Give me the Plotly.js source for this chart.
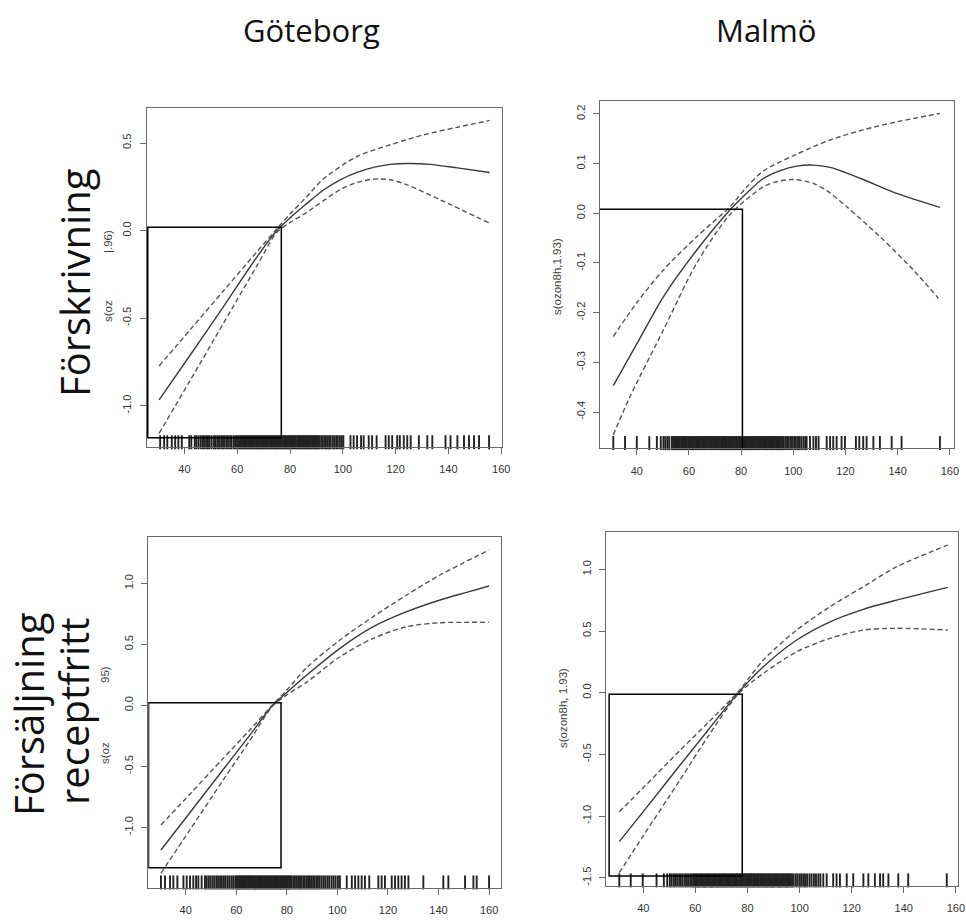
<!DOCTYPE html>
<html>
<head>
<meta charset="utf-8">
<script src="https://cdn.plot.ly/plotly-3.0.1.min.js"></script>
<style>html,body{margin:0;padding:0;background:#fff;}#chart{width:966px;height:920px;}</style>
</head>
<body>
<div id="chart"></div>
<script>
// ---------- DATA ----------
const colTitles = ["Göteborg", "Malmö"];
const rowTitle1 = "Förskrivning";
const rowTitle2 = ["Försäljning", "receptfritt"];
const yLabelsG1 = ["s(oz", "|.96)"];
const yLabelM1 = "s(ozon8h,1.93)";
const yLabelsG2 = ["s(oz", "95)"];
const yLabelM2 = "s(ozon8h, 1.93)";

const xTickVals = [40, 60, 80, 100, 120, 140, 160];
const xTickText = ["40", "60", "80", "100", "120", "140", "160"];

const yTickValsG1 = [-1.0, -0.5, 0.0, 0.5];
const yTickTextG1 = ["-1.0", "-0.5", "0.0", "0.5"];
const yTickValsM1 = [-0.4, -0.3, -0.2, -0.1, 0.0, 0.1, 0.2];
const yTickTextM1 = ["-0.4", "-0.3", "-0.2", "-0.1", "0.0", "0.1", "0.2"];
const yTickValsG2 = [-1.0, -0.5, 0.0, 0.5, 1.0];
const yTickTextG2 = ["-1.0", "-0.5", "0.0", "0.5", "1.0"];
const yTickValsM2 = [-1.5, -1.0, -0.5, 0.0, 0.5, 1.0];
const yTickTextM2 = ["-1.5", "-1.0", "-0.5", "0.0", "0.5", "1.0"];

// Göteborg – Förskrivning
const g1FitX = [30.4, 42, 54.8, 67.5, 75, 80.1, 86, 92.8, 99, 105.4, 112, 118, 124.4, 133, 143.4, 155.6];
const g1FitY = [-0.967, -0.715, -0.434, -0.15, 0.0, 0.074, 0.15, 0.233, 0.29, 0.332, 0.362, 0.378, 0.383, 0.378, 0.358, 0.332];
const g1UpX = [30.4, 42, 54.8, 67.5, 75, 80, 86, 92.8, 105.4, 118, 130.7, 143.4, 155.6];
const g1UpY = [-0.773, -0.569, -0.344, -0.12, 0.01, 0.095, 0.188, 0.297, 0.423, 0.49, 0.547, 0.59, 0.629];
const g1LoX = [30.4, 42, 54.8, 67.5, 75, 80, 86.4, 92.8, 99.1, 105.4, 111.7, 118, 124.4, 137, 155.6];
const g1LoY = [-1.158, -0.86, -0.529, -0.2, -0.01, 0.045, 0.105, 0.172, 0.235, 0.275, 0.294, 0.29, 0.261, 0.175, 0.042];

// Malmö – Förskrivning
const m1FitX = [31, 40, 50.2, 63, 75.7, 82, 88.5, 95, 101.3, 107.7, 114.1, 120, 126.8, 139.6, 156.2];
const m1FitY = [-0.347, -0.263, -0.168, -0.074, 0.0066, 0.04, 0.070, 0.086, 0.095, 0.097, 0.0925, 0.082, 0.068, 0.040, 0.012];
const m1UpX = [31, 40, 50.2, 63, 75.7, 82, 88.5, 101.3, 114.1, 126.8, 139.6, 156.2];
const m1UpY = [-0.248, -0.18, -0.114, -0.047, 0.013, 0.052, 0.085, 0.119, 0.1475, 0.168, 0.184, 0.201];
const m1LoX = [31, 37.4, 50.2, 63, 75.7, 88.5, 94, 100, 107.7, 113, 120.5, 133.2, 146, 155.6];
const m1LoY = [-0.446, -0.369, -0.235, -0.1, -0.003, 0.0535, 0.064, 0.068, 0.060, 0.045, 0.013, -0.047, -0.114, -0.171];

// Göteborg – Försäljning receptfritt
const g2FitX = [30.2, 42, 54.9, 65, 74.4, 80, 87.9, 101, 114.2, 127.4, 140.6, 150, 160];
const g2FitY = [-1.186, -0.87, -0.524, -0.255, 0.0, 0.105, 0.248, 0.467, 0.644, 0.767, 0.863, 0.92, 0.978];
const g2UpX = [30.2, 42, 54.9, 65, 74.4, 80, 87.9, 101, 114.2, 127.4, 140.6, 160];
const g2UpY = [-0.981, -0.72, -0.433, -0.21, 0.005, 0.125, 0.31, 0.535, 0.727, 0.904, 1.068, 1.273];
const g2LoX = [30.2, 42, 54.9, 65, 74.4, 80, 87.9, 101, 114.2, 127.4, 140.6, 150, 160];
const g2LoY = [-1.377, -1.01, -0.61, -0.30, -0.005, 0.085, 0.19, 0.398, 0.549, 0.644, 0.677, 0.68, 0.68];

// Malmö – Försäljning receptfritt
const m2FitX = [30.8, 40, 54, 65, 76.5, 86.1, 98.9, 111.7, 124.5, 137.3, 156.9];
const m2FitY = [-1.207, -0.964, -0.59, -0.30, 0.0, 0.211, 0.427, 0.575, 0.676, 0.751, 0.854];
const m2UpX = [30.8, 40, 54, 65, 76.5, 86.1, 98.9, 111.7, 124.5, 137.3, 156.9];
const m2UpY = [-0.964, -0.77, -0.47, -0.24, 0.01, 0.265, 0.508, 0.697, 0.859, 1.021, 1.197];
const m2LoX = [30.8, 40, 54.1, 65, 76.5, 86.1, 98.9, 111.7, 124.5, 137.3, 156.9];
const m2LoY = [-1.459, -1.16, -0.707, -0.35, -0.01, 0.157, 0.332, 0.441, 0.508, 0.522, 0.508];

// rug (observed ozon8h values)
const rugG1 = [30.8, 32.3, 33.5, 35.2, 36.5, 37.7, 39.0, 41.8, 42.6, 43.9, 44.5, 45.3, 46.1, 46.8, 47.4, 48.2, 48.9, 49.5, 50.3, 51.2, 51.8, 52.5, 53.1, 53.9, 54.6, 55.2, 55.9, 56.5, 57.3, 57.8, 58.6, 59.2, 59.9, 60.5, 61.0, 61.4, 61.9, 62.3, 62.8, 63.2, 63.6, 64.1, 64.5, 65.0, 65.4, 65.9, 66.3, 66.7, 67.2, 67.6, 68.1, 68.5, 69.0, 69.4, 69.8, 70.3, 70.7, 71.2, 71.6, 72.0, 72.5, 72.9, 73.4, 73.8, 74.3, 74.7, 75.1, 75.6, 76.0, 76.5, 76.9, 77.4, 77.8, 78.2, 78.7, 79.1, 79.6, 80.0, 80.4, 80.9, 81.3, 81.8, 82.2, 82.7, 83.1, 83.5, 84.0, 84.4, 84.9, 85.3, 85.8, 86.2, 86.6, 87.1, 87.5, 88.0, 88.4, 88.9, 89.3, 89.7, 90.2, 90.6, 91.1, 91.8, 92.4, 93.1, 93.6, 94.3, 94.9, 95.4, 96.2, 96.8, 97.5, 98.1, 98.9, 99.6, 100.2, 102.9, 104.1, 105.4, 106.9, 107.9, 109.8, 111.1, 112.8, 116.2, 117.4, 118.7, 120.6, 121.6, 123.1, 124.4, 125.7, 128.8, 132.0, 133.9, 138.9, 140.8, 143.4, 145.9, 147.8, 149.7, 151.6, 155.4];
const rugM1 = [31.0, 35.5, 40.0, 44.8, 47.7, 49.2, 50.2, 50.9, 51.7, 52.4, 53.4, 53.8, 54.3, 54.7, 55.2, 55.6, 56.1, 56.5, 57.0, 57.4, 57.9, 58.3, 58.8, 59.2, 59.7, 60.1, 60.6, 61.0, 61.5, 61.9, 62.4, 62.8, 63.3, 63.7, 64.2, 64.6, 65.1, 65.5, 66.0, 66.4, 66.9, 67.3, 67.8, 68.2, 68.7, 69.1, 69.6, 70.0, 70.5, 70.9, 71.4, 71.8, 72.3, 72.7, 73.2, 73.6, 74.1, 74.5, 75.0, 75.4, 75.9, 76.3, 76.8, 77.2, 77.7, 78.1, 78.6, 79.0, 79.5, 79.9, 80.4, 80.8, 81.3, 81.7, 82.2, 82.6, 83.1, 83.5, 84.0, 84.4, 84.9, 85.3, 85.8, 86.2, 86.7, 87.1, 87.6, 88.0, 88.5, 88.9, 89.4, 89.8, 90.3, 90.7, 91.2, 91.6, 92.1, 92.5, 93.0, 93.4, 93.9, 94.3, 94.8, 95.2, 95.7, 96.2, 96.9, 97.6, 98.2, 98.9, 99.5, 100.3, 101.0, 101.8, 102.4, 103.1, 103.9, 104.6, 105.1, 106.4, 107.7, 108.7, 109.7, 112.8, 114.1, 115.3, 116.6, 118.5, 119.8, 124.0, 125.3, 126.8, 128.1, 130.7, 133.2, 137.7, 141.5, 156.2];
const rugG2 = [30.2, 31.8, 33.8, 35.1, 36.7, 39.1, 40.4, 41.7, 43.0, 44.1, 45.0, 46.3, 47.6, 48.3, 49.1, 49.8, 50.6, 51.3, 52.1, 52.8, 53.6, 54.3, 55.1, 55.8, 56.6, 57.3, 58.1, 58.8, 59.6, 60.2, 60.6, 61.1, 61.5, 62.0, 62.4, 62.9, 63.3, 63.8, 64.2, 64.7, 65.1, 65.6, 66.0, 66.5, 66.9, 67.4, 67.8, 68.3, 68.7, 69.2, 69.6, 70.1, 70.5, 71.0, 71.4, 71.9, 72.3, 72.8, 73.2, 73.7, 74.1, 74.6, 75.0, 75.5, 75.9, 76.4, 76.8, 77.3, 77.7, 78.2, 78.6, 79.1, 79.5, 80.0, 80.4, 80.9, 81.3, 81.9, 82.6, 83.2, 83.9, 84.5, 85.2, 85.8, 86.5, 87.1, 87.8, 88.4, 89.1, 89.7, 90.4, 91.0, 91.7, 92.3, 93.0, 93.8, 94.6, 95.3, 96.1, 96.8, 97.7, 98.5, 99.3, 100.2, 101.0, 103.7, 105.7, 107.0, 108.3, 109.6, 110.9, 112.6, 116.2, 117.5, 118.8, 121.5, 122.8, 124.1, 125.4, 126.7, 128.1, 134.0, 141.9, 143.9, 150.5, 153.8, 155.1, 160.0];
const rugM2 = [30.8, 35.2, 39.8, 45.1, 47.9, 49.2, 50.2, 50.9, 51.7, 52.3, 53.0, 53.8, 54.4, 55.1, 55.9, 56.5, 57.2, 58.0, 58.6, 59.2, 59.7, 60.1, 60.6, 61.0, 61.5, 61.9, 62.4, 62.8, 63.3, 63.7, 64.2, 64.6, 65.1, 65.5, 66.0, 66.4, 66.9, 67.3, 67.8, 68.2, 68.7, 69.1, 69.6, 70.0, 70.5, 70.9, 71.4, 71.8, 72.3, 72.7, 73.2, 73.6, 74.1, 74.5, 75.0, 75.4, 75.9, 76.3, 76.8, 77.2, 77.7, 78.1, 78.6, 79.0, 79.5, 79.9, 80.4, 80.8, 81.3, 81.7, 82.2, 82.6, 83.1, 83.5, 84.0, 84.4, 84.9, 85.3, 85.8, 86.2, 86.7, 87.1, 87.6, 88.0, 88.5, 88.9, 89.4, 89.8, 90.3, 90.7, 91.2, 91.6, 92.1, 92.5, 93.0, 93.4, 93.9, 94.3, 94.8, 95.2, 95.7, 96.1, 96.6, 97.1, 97.6, 98.4, 99.1, 99.9, 100.6, 101.4, 102.1, 102.9, 103.8, 104.6, 105.5, 106.3, 107.2, 108.0, 109.1, 110.4, 112.9, 114.2, 115.5, 118.1, 120.6, 124.5, 126.4, 128.9, 130.9, 132.1, 134.1, 137.9, 141.7, 156.5];

// highlighted box per panel
const boxG1 = {x0: 26.1, x1: 76.7, y0: -1.183, y1: 0.019};
const boxM1 = {x0: 25.4, x1: 80.5, y0: -0.48, y1: 0.008};
const boxG2 = {x0: 25.3, x1: 77.7, y0: -1.331, y1: 0.021};
const boxM2 = {x0: 26.9, x1: 78.0, y0: -1.485, y1: -0.013};

// ---------- BUILD ----------
const W = 966, H = 920;
const px = v => v / W;
const py = v => 1 - v / H;

const fitLine = {color: '#3a3a3a', width: 1.4};
const ciLine = {color: '#555', width: 1.4, dash: '5px,3px'};

function curves(xa, ya, fx, fy, ux, uy, lx, ly) {
  return [
    {x: fx, y: fy, xaxis: xa, yaxis: ya, mode: 'lines', line: Object.assign({shape: 'spline', smoothing: 0.8}, fitLine), hoverinfo: 'skip'},
    {x: ux, y: uy, xaxis: xa, yaxis: ya, mode: 'lines', line: Object.assign({shape: 'spline', smoothing: 0.8}, ciLine), hoverinfo: 'skip'},
    {x: lx, y: ly, xaxis: xa, yaxis: ya, mode: 'lines', line: Object.assign({shape: 'spline', smoothing: 0.8}, ciLine), hoverinfo: 'skip'}
  ];
}
// rug: one vertical tick per observation, drawn as line-ns markers
function rug(xa, ya, vals, h) {
  return {x: vals, y: vals.map(() => h / 2), xaxis: xa, yaxis: ya, mode: 'markers', cliponaxis: false,
    marker: {symbol: 'line-ns', size: 10, color: '#222', line: {color: '#222', width: 1.9}}, hoverinfo: 'skip'};
}

const data = [].concat(
  curves('x', 'y', g1FitX, g1FitY, g1UpX, g1UpY, g1LoX, g1LoY),
  curves('x2', 'y2', m1FitX, m1FitY, m1UpX, m1UpY, m1LoX, m1LoY),
  curves('x3', 'y3', g2FitX, g2FitY, g2UpX, g2UpY, g2LoX, g2LoY),
  curves('x4', 'y4', m2FitX, m2FitY, m2UpX, m2UpY, m2LoX, m2LoY),
  [rug('x', 'y5', rugG1, 0.028), rug('x2', 'y6', rugM1, 0.03), rug('x3', 'y7', rugG2, 0.03), rug('x4', 'y8', rugM2, 0.03)]
);

const tickFont = {family: 'Liberation Sans, Arial, sans-serif', size: 11, color: '#333'};
function xAx(domain, range, anchor) {
  return {domain: domain, range: range, anchor: anchor, showgrid: false, zeroline: false,
    showline: true, mirror: true, linecolor: '#6a6a6a', linewidth: 1,
    ticks: 'outside', ticklen: 6, tickcolor: '#6a6a6a', tickvals: xTickVals, ticktext: xTickText,
    tickfont: tickFont, ticklabelstandoff: 6, fixedrange: true};
}
function yAx(domain, range, anchor, tv, tt) {
  return {domain: domain, range: range, anchor: anchor, showgrid: false, zeroline: false,
    showline: true, mirror: true, linecolor: '#6a6a6a', linewidth: 1,
    ticks: 'outside', ticklen: 6, tickcolor: '#6a6a6a', tickvals: tv, ticktext: tt,
    tickangle: -90, tickfont: tickFont, ticklabelstandoff: 4, fixedrange: true};
}
function rugAx(over, anchor) {
  return {overlaying: over, anchor: anchor, range: [0, 1], visible: false, fixedrange: true};
}

function boxShape(b, xr, yr) {
  return {type: 'rect', xref: xr, yref: yr, x0: b.x0, x1: b.x1, y0: b.y0, y1: b.y1,
    line: {color: '#000', width: 1.5}, fillcolor: 'rgba(0,0,0,0)'};
}

const headFont = {family: 'Open Sans, Noto Sans, sans-serif', size: 31, color: '#111'};
const rowFont = {family: 'Open Sans, Noto Sans, sans-serif', size: 40, color: '#111'};
const labFont = {family: 'Liberation Sans, Arial, sans-serif', size: 11.5, color: '#444'};
function ann(text, x, y, font, angle) {
  return {text: text, x: px(x), y: py(y), xref: 'paper', yref: 'paper', showarrow: false,
    xanchor: 'center', yanchor: 'middle', font: font, textangle: angle || 0};
}

const layout = {
  width: W, height: H,
  margin: {l: 0, r: 0, t: 0, b: 0},
  paper_bgcolor: '#fff', plot_bgcolor: '#fff',
  showlegend: false,
  xaxis: xAx([px(146.7), px(502)], [25.7, 160.3], 'y'),
  yaxis: yAx([py(447), py(108)], [-1.236, 0.70], 'x', yTickValsG1, yTickTextG1),
  xaxis2: xAx([px(600), px(954)], [25.9, 161.6], 'y2'),
  yaxis2: yAx([py(448.3), py(100.7)], [-0.473, 0.2266], 'x2', yTickValsM1, yTickTextM1),
  xaxis3: xAx([px(148.3), px(500.7)], [25.2, 164.6], 'y3'),
  yaxis3: yAx([py(887.7), py(537.3)], [-1.495, 1.377], 'x3', yTickValsG2, yTickTextG2),
  xaxis4: xAx([px(606), px(957.7)], [25.7, 160.7], 'y4'),
  yaxis4: yAx([py(885.7), py(531.7)], [-1.564, 1.305], 'x4', yTickValsM2, yTickTextM2),
  yaxis5: rugAx('y', 'x'),
  yaxis6: rugAx('y2', 'x2'),
  yaxis7: rugAx('y3', 'x3'),
  yaxis8: rugAx('y4', 'x4'),
  shapes: [boxShape(boxG1, 'x', 'y'), boxShape(boxM1, 'x2', 'y2'), boxShape(boxG2, 'x3', 'y3'), boxShape(boxM2, 'x4', 'y4')],
  annotations: [
    ann(colTitles[0], 311, 30, headFont),
    ann(colTitles[1], 766, 30, headFont),
    ann(rowTitle1, 74, 283, rowFont, -90),
    ann(rowTitle2[0], 28, 715, rowFont, -90),
    ann(rowTitle2[1], 73, 711, rowFont, -90),
    ann(yLabelsG1[0], 108, 311, labFont, -90),
    ann(yLabelsG1[1], 108, 242, labFont, -90),
    ann(yLabelM1, 557, 277, labFont, -90),
    ann(yLabelsG2[0], 105, 753, labFont, -90),
    ann(yLabelsG2[1], 105, 675, labFont, -90),
    ann(yLabelM2, 563, 708, labFont, -90)
  ]
};

Plotly.newPlot('chart', data, layout, {staticPlot: true, displayModeBar: false});
</script>
</body>
</html>
